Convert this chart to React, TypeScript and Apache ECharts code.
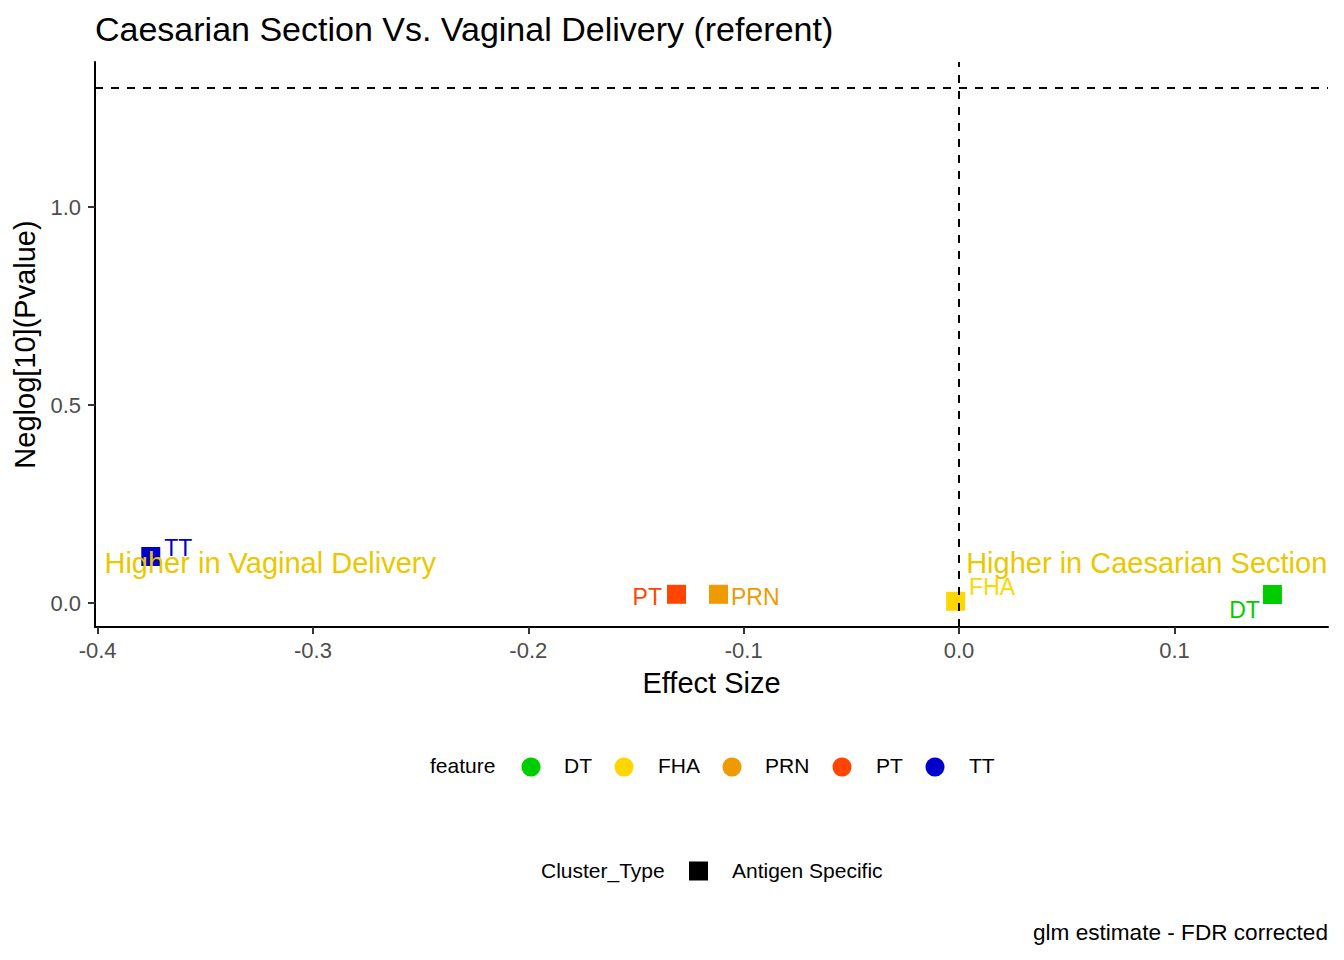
import React, { useEffect, useRef } from "react";
import * as echarts from "echarts";

const FONT = "'Liberation Sans', Arial, sans-serif";

const features = ["DT", "FHA", "PRN", "PT", "TT"];
const effectSize = [0.1455, -0.0016, -0.1117, -0.1312, -0.3753];
const negLogP = [0.0215, 0.0043, 0.022, 0.022, 0.1174];
const featureColors = ["#00CD00", "#FFD700", "#EE9A00", "#FF4500", "#0000CD"];

const xTicks = [-0.4, -0.3, -0.2, -0.1, 0.0, 0.1];
const yTicks = [0.0, 0.5, 1.0];

const annotationTexts = ["Higher in Vaginal Delivery", "Higher in Caesarian Section"];
const annotationX = [-0.3968, 0.0033];
const annotationY = [0.101, 0.101];

const pThreshold = -Math.log10(0.05);

const clusterTypes = ["Antigen Specific"];

// label placement per feature (layout only)
const labelPlacement: Record<string, { position: string; distance: number; offset: number[] }> = {
  DT: { position: "left", distance: 3, offset: [0, 16] },
  FHA: { position: "right", distance: 4, offset: [0, -14] },
  PRN: { position: "right", distance: 3, offset: [0, 3] },
  PT: { position: "left", distance: 5, offset: [0, 3] },
  TT: { position: "right", distance: 4, offset: [0, -9] },
};

export default function App() {
  const ref = useRef<HTMLDivElement>(null);

  useEffect(() => {
    if (!ref.current) return;
    const chart = echarts.init(ref.current, undefined, { renderer: "svg" });

    const pointData = features.map((f, i) => ({
      name: f,
      value: [effectSize[i], negLogP[i]],
      itemStyle: { color: featureColors[i], opacity: 1 },
      label: {
        show: true,
        formatter: f,
        color: featureColors[i],
        fontSize: 23,
        fontFamily: FONT,
        position: labelPlacement[f].position,
        distance: labelPlacement[f].distance,
        offset: labelPlacement[f].offset,
      },
    }));

    const annData = annotationTexts.map((t, i) => ({
      name: t,
      value: [annotationX[i], annotationY[i]],
    }));

    // Legend graphics
    const legendCircleX = [531, 624, 732, 842, 935];
    const legendTextX = [564, 658, 765, 876, 969];
    const legendY = 767;
    const graphics: any[] = [
      {
        type: "text",
        left: 430,
        top: legendY - 12,
        style: { text: "feature", fontSize: 21, fontFamily: FONT, fill: "#000" },
      },
    ];
    features.forEach((f, i) => {
      graphics.push({
        type: "circle",
        shape: { cx: legendCircleX[i], cy: legendY, r: 9.5 },
        style: { fill: featureColors[i] },
      });
      graphics.push({
        type: "text",
        left: legendTextX[i],
        top: legendY - 12,
        style: { text: f, fontSize: 21, fontFamily: FONT, fill: "#000" },
      });
    });
    const clusterY = 871;
    graphics.push({
      type: "text",
      left: 541,
      top: clusterY - 11,
      style: { text: "Cluster_Type", fontSize: 21, fontFamily: FONT, fill: "#000" },
    });
    graphics.push({
      type: "rect",
      shape: { x: 689, y: clusterY - 9.5, width: 19, height: 19 },
      style: { fill: "#000" },
    });
    graphics.push({
      type: "text",
      left: 732,
      top: clusterY - 11,
      style: { text: clusterTypes[0], fontSize: 21, fontFamily: FONT, fill: "#000" },
    });
    graphics.push({
      type: "text",
      right: 16,
      top: 921,
      style: { text: "glm estimate - FDR corrected", fontSize: 22.6, fontFamily: FONT, fill: "#000" },
    });

    const option: any = {
      animation: false,
      backgroundColor: "#fff",
      textStyle: { fontFamily: FONT },
      title: {
        text: "Caesarian Section Vs. Vaginal Delivery (referent)",
        left: 95,
        top: 12,
        padding: 0,
        textStyle: { fontSize: 34, fontWeight: "normal", color: "#000", fontFamily: FONT },
      },
      grid: { left: 95, right: 16, top: 62, bottom: 333, containLabel: false },
      xAxis: {
        type: "value",
        min: -0.4012,
        max: 0.1713,
        name: "Effect Size",
        nameLocation: "middle",
        nameGap: 41,
        nameTextStyle: { fontSize: 29, color: "#000", fontFamily: FONT },
        axisLine: { show: true, onZero: false, lineStyle: { color: "#000", width: 2 } },
        axisTick: { show: true, length: 7, customValues: xTicks, lineStyle: { color: "#333", width: 2 } },
        axisLabel: {
          customValues: xTicks,
          formatter: (v: number) => v.toFixed(1),
          fontSize: 22,
          color: "#4D4D4D",
          margin: 12,
          fontFamily: FONT,
        },
        splitLine: { show: false },
      },
      yAxis: {
        type: "value",
        min: -0.0606,
        max: 1.3662,
        name: "Neglog[10](Pvalue)",
        nameLocation: "middle",
        nameGap: 52,
        nameTextStyle: { fontSize: 29, color: "#000", fontFamily: FONT },
        axisLine: { show: true, onZero: false, lineStyle: { color: "#000", width: 2 } },
        axisTick: { show: true, length: 7, customValues: yTicks, lineStyle: { color: "#333", width: 2 } },
        axisLabel: {
          customValues: yTicks,
          formatter: (v: number) => v.toFixed(1),
          fontSize: 22,
          color: "#4D4D4D",
          margin: 14,
          fontFamily: FONT,
        },
        splitLine: { show: false },
      },
      series: [
        {
          type: "scatter",
          name: "points",
          symbol: "rect",
          symbolSize: 19,
          z: 2,
          itemStyle: { opacity: 1 },
          data: pointData,
        },
        {
          type: "scatter",
          name: "refLines",
          data: [],
          z: 3,
          markLine: {
            silent: true,
            symbol: "none",
            label: { show: false },
            lineStyle: { color: "#000", type: [8, 8], width: 2, opacity: 1 },
            data: [{ yAxis: pThreshold }, { xAxis: 0 }],
          },
        },
        {
          type: "scatter",
          name: "annotations",
          symbolSize: 0,
          z: 4,
          itemStyle: { opacity: 1 },
          data: annData,
          label: {
            show: true,
            position: "right",
            distance: 0,
            formatter: (p: any) => p.name,
            color: "#EBC700",
            fontSize: 29,
            fontFamily: FONT,
          },
        },
      ],
      graphic: graphics,
    };

    chart.setOption(option);
    return () => chart.dispose();
  }, []);

  return (
    <div
      ref={ref}
      style={{ position: "fixed", left: 0, top: 0, width: 1344, height: 960, background: "#fff" }}
    />
  );
}
